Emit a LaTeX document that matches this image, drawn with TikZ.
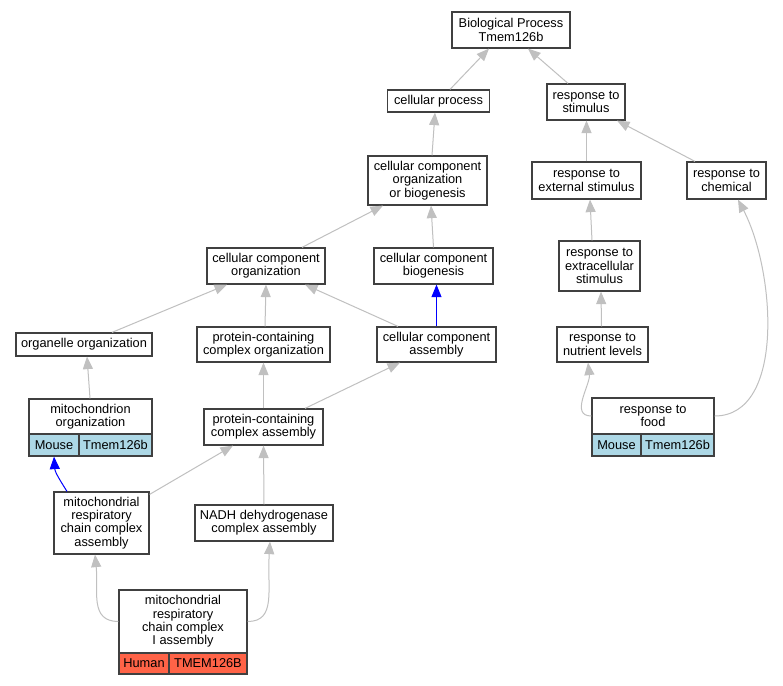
\documentclass[tikz,border=0pt]{standalone}
\usepackage{fontspec}
\setmainfont{Liberation Sans}
\usetikzlibrary{arrows.meta}
\definecolor{edgegray}{HTML}{C0C0C0}
\definecolor{boxline}{HTML}{404040}
\definecolor{mouseblue}{HTML}{ADD8E6}
\definecolor{humanred}{HTML}{FF6347}
\tikzset{
  gobox/.style={draw=boxline, line width=1.2pt, fill=white, inner sep=0pt, align=center,
    font=\fontsize{12.8}{13.3}\selectfont},
  cellm/.style={gobox, fill=mouseblue},
  cellh/.style={gobox, fill=humanred},
  isa/.style={draw=edgegray, line width=1pt, -{Triangle[length=12.5pt,width=10pt]}},
  partof/.style={draw=blue, line width=1pt, -{Triangle[length=12.5pt,width=10pt]}},
}
\begin{document}
\begin{tikzpicture}[x=1pt,y=-1pt]
\useasboundingbox[fill=white] (0,0) rectangle (783,685);
% nodes
\node[gobox, minimum width=118pt, minimum height=36pt] (bp) at (511,30) {Biological Process\\Tmem126b};
\node[gobox, minimum width=102pt, minimum height=22pt] (cellproc) at (438.5,101) {cellular process};
\node[gobox, minimum width=78pt, minimum height=36pt] (respstim) at (586,102) {response to\\stimulus};
\node[gobox, minimum width=109pt, minimum height=37pt] (respext) at (586.5,180.5) {response to\\external stimulus};
\node[gobox, minimum width=79pt, minimum height=37pt] (respchem) at (726.5,180.5) {response to\\chemical};
\node[gobox, minimum width=119pt, minimum height=49pt] (ccoob) at (427.5,180.5) {cellular component\\organization\\or biogenesis};
\node[gobox, minimum width=118pt, minimum height=36pt] (ccorg) at (266,266) {cellular component\\organization};
\node[gobox, minimum width=119pt, minimum height=36pt] (ccbiog) at (433.5,266) {cellular component\\biogenesis};
\node[gobox, minimum width=81pt, minimum height=50pt] (respextra) at (599.5,266) {response to\\extracellular\\stimulus};
\node[gobox, minimum width=136pt, minimum height=23pt] (organelle) at (84,344.5) {organelle organization};
\node[gobox, minimum width=133pt, minimum height=35pt] (pccorg) at (263.5,344.5) {protein-containing\\complex organization};
\node[gobox, minimum width=119pt, minimum height=35pt] (ccassem) at (436.5,344.5) {cellular component\\assembly};
\node[gobox, minimum width=91pt, minimum height=35pt] (respnut) at (602.5,344.5) {response to\\nutrient levels};
% mitochondrion organization (split)
\node[gobox, minimum width=123pt, minimum height=35pt] (mitoorg) at (90.5,416.5) {mitochondrion\\organization};
\node[cellm, minimum width=50pt, minimum height=22pt] (mitoorgA) at (54,445) {Mouse};
\node[cellm, minimum width=73pt, minimum height=22pt] (mitoorgB) at (115.5,445) {Tmem126b};
% response to food (split)
\node[gobox, minimum width=122pt, minimum height=36pt] (food) at (653,416) {response to\\food};
\node[cellm, minimum width=49pt, minimum height=22pt] (foodA) at (616.5,445) {Mouse};
\node[cellm, minimum width=73pt, minimum height=22pt] (foodB) at (677.5,445) {Tmem126b};
\node[gobox, minimum width=119pt, minimum height=36pt] (pccassem) at (263.5,427) {protein-containing\\complex assembly};
\node[gobox, minimum width=95pt, minimum height=62pt] (mrcca) at (101.5,523) {mitochondrial\\respiratory\\chain complex\\assembly};
\node[gobox, minimum width=138pt, minimum height=36pt] (nadh) at (264,523) {NADH dehydrogenase\\complex assembly};
% mitochondrial respiratory chain complex I assembly (split)
\node[gobox, minimum width=128pt, minimum height=63pt] (mrcci) at (183,621.5) {mitochondrial\\respiratory\\chain complex\\I assembly};
\node[cellh, minimum width=50pt, minimum height=21pt] (mrcciA) at (144,663.5) {Human};
\node[cellh, minimum width=78pt, minimum height=21pt] (mrcciB) at (208,663.5) {TMEM126B};
% edges
\draw[isa] ([xshift=11.5pt]cellproc.north) -- ([xshift=-22pt]bp.south);
\draw[isa] ([xshift=-18pt]respstim.north) -- ([xshift=17pt]bp.south);
\draw[isa] ([xshift=4.5pt]ccoob.north) -- ([xshift=-3.5pt]cellproc.south);
\draw[isa] (respext.north) -- (respext.north |- respstim.south);
\draw[isa] ([xshift=-31.5pt]respchem.north) -- ([xshift=31pt]respstim.south);
\draw[isa] ([xshift=36pt]ccorg.north) -- ([xshift=-44.5pt]ccoob.south);
\draw[isa] (ccbiog.north) -- ([xshift=3.5pt]ccoob.south);
\draw[isa] ([xshift=-7.5pt]respextra.north) -- ([xshift=3.5pt]respext.south);
\draw[isa] ([xshift=28pt]organelle.north) -- ([xshift=-39pt]ccorg.south);
\draw[isa] ([xshift=1.5pt]pccorg.north) -- (ccorg.south);
\draw[isa] ([xshift=-38.5pt]ccassem.north) -- ([xshift=39pt]ccorg.south);
\draw[partof] (ccassem.north) -- (ccassem.north |- ccbiog.south);
\draw[isa] ([xshift=-1pt]respnut.north) -- ([xshift=1.5pt]respextra.south);
\draw[isa] (food.west) .. controls ([xshift=-22pt]food.west) and ([shift={(-12,22)}]respnut.south) .. ([xshift=-14.5pt]respnut.south);
\draw[isa] (food.east) .. controls ([xshift=71pt]food.east) and ([shift={(48.5,71)}]respchem.south) .. ([xshift=11.5pt]respchem.south);
\draw[isa] ([xshift=-0.5pt]mitoorg.north) -- ([xshift=3pt]organelle.south);
\draw[isa] (pccassem.north) -- (pccorg.south);
\draw[isa] ([xshift=41.5pt]pccassem.north) -- ([xshift=-36.5pt]ccassem.south);
\draw[partof] ([xshift=-34.5pt]mrcca.north) .. controls ([shift={(-39.5,-8)}]mrcca.north) and ([shift={(1,16)}]mitoorgA.south) .. (mitoorgA.south);
\draw[isa] ([yshift=-3pt]mrcca.north east) -- ([xshift=-30.5pt]pccassem.south);
\draw[isa] (nadh.north) -- (pccassem.south);
\draw[isa] (mrcci.west) .. controls ([xshift=-29pt]mrcci.west) and ([shift={(-3,36)}]mrcca.south) .. ([xshift=-6.5pt]mrcca.south);
\draw[isa] (mrcci.east) .. controls ([xshift=29pt]mrcci.east) and ([shift={(3,48)}]nadh.south) .. ([xshift=6pt]nadh.south);
\end{tikzpicture}
\end{document}
